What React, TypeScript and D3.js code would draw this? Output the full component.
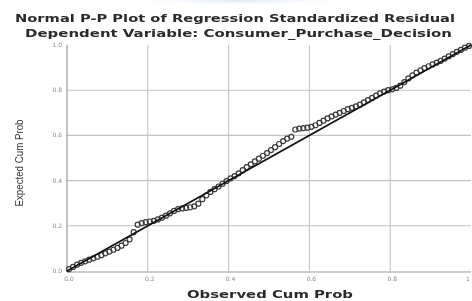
import React from "react";
import * as d3 from "d3";

const observed: number[] = [
  0.005, 0.015, 0.025, 0.035, 0.045, 0.055, 0.065, 0.075, 0.085, 0.095,
  0.105, 0.115, 0.125, 0.135, 0.145, 0.155, 0.165, 0.175, 0.185, 0.195,
  0.205, 0.215, 0.225, 0.235, 0.245, 0.255, 0.265, 0.275, 0.285, 0.295,
  0.305, 0.315, 0.325, 0.335, 0.345, 0.355, 0.365, 0.375, 0.385, 0.395,
  0.405, 0.415, 0.425, 0.435, 0.445, 0.455, 0.465, 0.475, 0.485, 0.495,
  0.505, 0.515, 0.525, 0.535, 0.545, 0.555, 0.565, 0.575, 0.585, 0.595,
  0.605, 0.615, 0.625, 0.635, 0.645, 0.655, 0.665, 0.675, 0.685, 0.695,
  0.705, 0.715, 0.725, 0.735, 0.745, 0.755, 0.765, 0.775, 0.785, 0.795,
  0.805, 0.815, 0.825, 0.835, 0.845, 0.855, 0.865, 0.875, 0.885, 0.895,
  0.905, 0.915, 0.925, 0.935, 0.945, 0.955, 0.965, 0.975, 0.985, 0.995,
];

const expected: number[] = [
  0.008, 0.018, 0.028, 0.036, 0.043, 0.05, 0.056, 0.063, 0.07, 0.078,
  0.086, 0.094, 0.102, 0.112, 0.124, 0.14, 0.172, 0.205, 0.212, 0.216,
  0.219, 0.222, 0.228, 0.236, 0.245, 0.255, 0.266, 0.274, 0.277, 0.279,
  0.282, 0.286, 0.298, 0.318, 0.335, 0.35, 0.362, 0.374, 0.386, 0.398,
  0.41, 0.42, 0.432, 0.446, 0.46, 0.472, 0.485, 0.497, 0.51, 0.522,
  0.535, 0.548, 0.562, 0.575, 0.586, 0.594, 0.626, 0.63, 0.632, 0.634,
  0.638, 0.645, 0.655, 0.665, 0.675, 0.684, 0.692, 0.7, 0.708, 0.716,
  0.722, 0.728, 0.736, 0.746, 0.756, 0.766, 0.776, 0.786, 0.794, 0.8,
  0.804, 0.81, 0.82, 0.836, 0.852, 0.866, 0.878, 0.888, 0.898, 0.906,
  0.914, 0.922, 0.93, 0.94, 0.95, 0.96, 0.97, 0.978, 0.988, 0.996,
];

const xTicks: number[] = [0, 0.2, 0.4, 0.6, 0.8, 1];
const xTickLabels: string[] = ["0.0", "0.2", "0.4", "0.6", "0.8", "1"];
const yTicks: number[] = [0, 0.2, 0.4, 0.6, 0.8, 1];
const yTickLabels: string[] = ["0.0", "0.2", "0.4", "0.6", "0.8", "1.0"];

const title1 = "Normal P-P Plot of Regression Standardized Residual";
const title2 = "Dependent Variable: Consumer_Purchase_Decision";
const xTitle = "Observed Cum Prob";
const yTitle = "Expected Cum Prob";

export default function App() {
  const W = 472;
  const H = 301;
  const x = d3.scaleLinear().domain([0, 1]).range([67, 471]);
  const y = d3.scaleLinear().domain([0, 1]).range([271, 45]);
  const pts = observed.map((o, i) => [o, expected[i]] as [number, number]);
  const diag = d3.line<number>().x((d) => x(d)).y((d) => y(d));

  return (
    <svg
      width={W}
      height={H}
      style={{ position: "absolute", left: 0, top: 0, background: "#fff" }}
    >
      <defs>
        <filter id="soft" x="-10%" y="-10%" width="120%" height="120%">
          <feGaussianBlur stdDeviation="0.45" />
        </filter>
        <filter id="softer" x="-10%" y="-10%" width="120%" height="120%">
          <feGaussianBlur stdDeviation="0.7" />
        </filter>
        <radialGradient id="glow" cx="50%" cy="0%" r="60%">
          <stop offset="0%" stopColor="#dbe6f7" />
          <stop offset="100%" stopColor="#ffffff" stopOpacity="0" />
        </radialGradient>
      </defs>
      <rect x={0} y={0} width={W} height={H} fill="#fff" />
      <rect x={140} y={0} width={200} height={10} fill="url(#glow)" />

      <g fontFamily="'DejaVu Sans', sans-serif" fontWeight="bold" fill="#2a2a2a" filter="url(#soft)">
        <text x={15} y={22} fontSize={11} textLength={440} lengthAdjust="spacingAndGlyphs">
          {title1}
        </text>
        <text x={25} y={37} fontSize={11} textLength={427} lengthAdjust="spacingAndGlyphs">
          {title2}
        </text>
      </g>

      {/* gridlines */}
      <g stroke="#c4c4c4" strokeWidth={1.1}>
        {xTicks.slice(1, 5).map((t) => (
          <line key={"gx" + t} x1={x(t)} x2={x(t)} y1={y(1)} y2={y(0)} />
        ))}
        {yTicks.slice(1, 5).map((t) => (
          <line key={"gy" + t} x1={x(0)} x2={x(1)} y1={y(t)} y2={y(t)} />
        ))}
      </g>

      {/* axes */}
      <line x1={x(0)} x2={x(0)} y1={y(1)} y2={y(0) + 1} stroke="#999" strokeWidth={1.2} />
      <line x1={x(0)} x2={x(1)} y1={y(0) + 1} y2={y(0) + 1} stroke="#999" strokeWidth={1.2} />

      {/* tick labels */}
      <g fontFamily="'DejaVu Sans', sans-serif" fontSize={6} fill="#8a8a8a" filter="url(#soft)">
        {yTicks.map((t, i) => (
          <text key={"yl" + t} x={62} y={y(t) + 2} textAnchor="end">
            {yTickLabels[i]}
          </text>
        ))}
        {xTicks.map((t, i) => (
          <text
            key={"xl" + t}
            x={t === 1 ? 468 : x(t) + 2}
            y={281}
            textAnchor="middle"
          >
            {xTickLabels[i]}
          </text>
        ))}
      </g>

      {/* points */}
      <g filter="url(#softer)">
        {pts.map((p, i) => (
          <circle
            key={"p" + i}
            cx={x(p[0])}
            cy={y(p[1])}
            r={2.5}
            fill="none"
            stroke="#3a3a3a"
            strokeWidth={1.2}
          />
        ))}
      </g>

      {/* reference line */}
      <path d={diag([0, 1]) || ""} stroke="#111" strokeWidth={1.8} fill="none" />

      {/* axis titles */}
      <text
        x={270}
        y={298}
        textAnchor="middle"
        fontFamily="'DejaVu Sans', sans-serif"
        fontWeight="bold"
        fontSize={10.5}
        fill="#2a2a2a"
        textLength={166}
        lengthAdjust="spacingAndGlyphs"
        filter="url(#soft)"
      >
        {xTitle}
      </text>
      <text
        transform={`translate(23,163) rotate(-90)`}
        textAnchor="middle"
        fontFamily="'Liberation Sans', Arial, sans-serif"
        fontSize={10}
        fill="#333"
        textLength={87}
        lengthAdjust="spacingAndGlyphs"
        filter="url(#soft)"
      >
        {yTitle}
      </text>
    </svg>
  );
}
